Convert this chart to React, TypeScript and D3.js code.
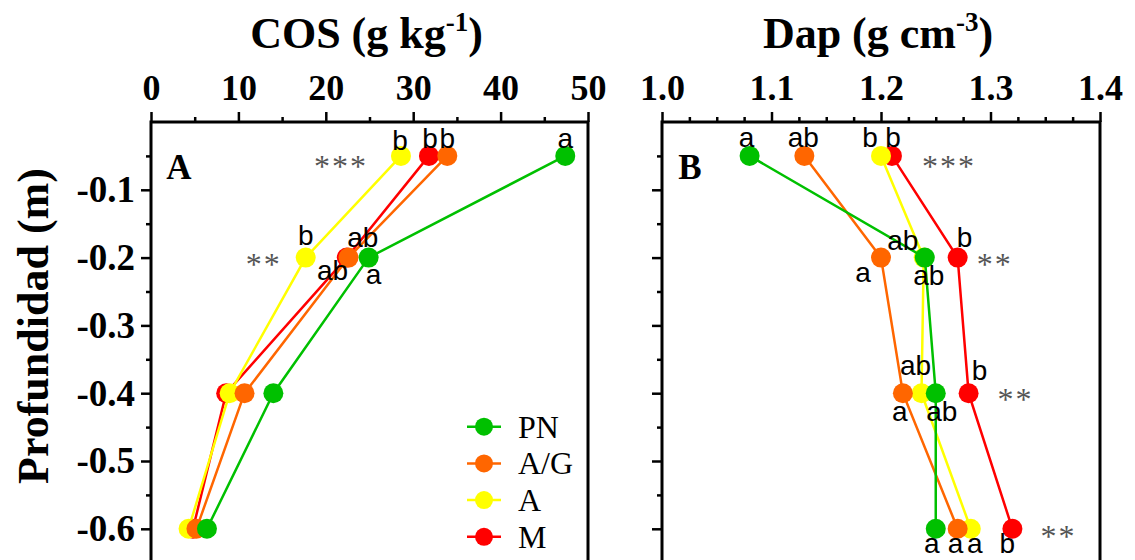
import * as d3 from 'd3';
import { useEffect, useRef } from 'react';

const depths = [-0.05, -0.2, -0.4, -0.6];
const seriesNames = ['PN', 'A/G', 'A', 'M'];
const seriesColors = ['#00c000', '#ff6600', '#ffff00', '#ff0000'];

// COS (g kg-1), one value per depth
const cosPN = [47.4, 24.9, 14.0, 6.4];
const cosAG = [33.9, 22.6, 10.7, 5.2];
const cosA = [28.6, 17.7, 9.0, 4.3];
const cosM = [31.8, 22.4, 8.6, 4.8];

// Dap (g cm-3), one value per depth
const dapPN = [1.08, 1.24, 1.25, 1.25];
const dapAG = [1.13, 1.2, 1.22, 1.27];
const dapA = [1.2, 1.239, 1.237, 1.282];
const dapM = [1.21, 1.27, 1.28, 1.32];

// letters of the mean comparison test
const cosLettersPN = ['a', 'a', '', ''];
const cosLettersAG = ['b', 'ab', '', ''];
const cosLettersA = ['b', 'b', '', ''];
const cosLettersM = ['b', 'ab', '', ''];
const dapLettersPN = ['a', 'ab', 'ab', 'a'];
const dapLettersAG = ['ab', 'a', 'a', 'a'];
const dapLettersA = ['b', 'ab', 'ab', 'a'];
const dapLettersM = ['b', 'b', 'b', 'b'];

const cosStars = ['***', '**', '', ''];
const dapStars = ['***', '**', '**', '**'];

const cosTicks = [0, 10, 20, 30, 40, 50];
const dapTicks = [1.0, 1.1, 1.2, 1.3, 1.4];
const depthTicks = [-0.1, -0.2, -0.3, -0.4, -0.5, -0.6];

const serif = "'Liberation Serif', 'Times New Roman', serif";
const sans = "'Liberation Sans', Arial, sans-serif";

// label nudges [dx, dy] from the point, per series then depth
const cosLetterPos = [
  [[0, -8], [5, 26], [0, 0], [0, 0]],
  [[0, -8], [-16, 22], [0, 0], [0, 0]],
  [[-1, -6], [0, -13], [0, 0], [0, 0]],
  [[1, -8], [16, -11], [0, 0], [0, 0]]
];
const dapLetterPos = [
  [[-3, -9], [-22, -8], [6, 28], [-4, 24]],
  [[-1, -9], [-18, 24], [-3, 28], [-2, 24]],
  [[-11, -9], [5, 27], [-6, -18], [4, 24]],
  [[1, -9], [7, -11], [11, -13], [-5, 24]]
];

const App = () => {
  const ref = useRef<SVGSVGElement | null>(null);

  useEffect(() => {
    if (!ref.current) return;
    const svg = d3.select(ref.current);
    svg.selectAll('*').remove();

    const width = 1135;
    const height = 560;
    svg.attr('width', width).attr('height', height);

    const y = d3.scaleLinear().domain([0, -0.7]).range([122, 596.6]);
    const minorDepth = d3.range(-0.05, -0.7, -0.1);

    const panels = [
      {
        x: d3.scaleLinear().domain([0, 50]).range([151, 588]),
        ticks: cosTicks,
        minor: d3.range(5, 50, 10),
        fmt: (d: number) => String(d),
        values: [cosPN, cosAG, cosA, cosM],
        letters: [cosLettersPN, cosLettersAG, cosLettersA, cosLettersM],
        letterPos: cosLetterPos,
        stars: cosStars,
        starAnchor: 2,
        starDx: [-61, -43, 0, 0],
        starDy: [6, 2, 0, 0],
        tag: 'A',
        title: 'COS (g kg',
        sup: '-1',
        showY: true
      },
      {
        x: d3.scaleLinear().domain([1.0, 1.4]).range([662, 1100]),
        ticks: dapTicks,
        minor: d3.range(1.025, 1.4, 0.025).filter(v => Math.abs(v * 10 - Math.round(v * 10)) > 0.01),
        fmt: (d: number) => d.toFixed(1),
        values: [dapPN, dapAG, dapA, dapM],
        letters: [dapLettersPN, dapLettersAG, dapLettersA, dapLettersM],
        letterPos: dapLetterPos,
        stars: dapStars,
        starAnchor: 3,
        starDx: [56, 36, 46, 45],
        starDy: [6, 2, 2, 3],
        tag: 'B',
        title: 'Dap (g cm',
        sup: '-3',
        showY: false
      }
    ];

    panels.forEach(p => {
      const [x0, x1] = p.x.range();
      const g = svg.append('g');

      // top axis
      const top = g.append('g').attr('transform', `translate(0,${y(0)})`);
      top.call(d3.axisTop(p.x).tickValues(p.ticks).tickSize(10).tickPadding(12).tickFormat(p.fmt as any));
      top.append('g').call(d3.axisTop(p.x).tickValues(p.minor).tickSize(5).tickFormat(() => ''));
      top.selectAll('.domain').remove();
      top.selectAll('line').attr('stroke', '#000').attr('stroke-width', 2.5);
      top.selectAll('text')
        .attr('font-family', serif)
        .attr('font-weight', 'bold')
        .attr('font-size', 36)
        .attr('fill', '#000');

      // left axis
      const left = g.append('g').attr('transform', `translate(${x0},0)`);
      left.call(
        d3.axisLeft(y).tickValues(depthTicks).tickSize(10).tickPadding(6)
          .tickFormat((d: any) => (p.showY ? Number(d).toFixed(1) : ''))
      );
      left.append('g').call(d3.axisLeft(y).tickValues(minorDepth).tickSize(5).tickFormat(() => ''));
      left.selectAll('.domain').remove();
      left.selectAll('line').attr('stroke', '#000').attr('stroke-width', 2.5);
      left.selectAll('text')
        .attr('font-family', serif)
        .attr('font-weight', 'bold')
        .attr('font-size', 37)
        .attr('fill', '#000');

      // frame
      g.append('rect')
        .attr('x', x0)
        .attr('y', y(0))
        .attr('width', x1 - x0)
        .attr('height', y(-0.7) - y(0))
        .attr('fill', 'none')
        .attr('stroke', '#000')
        .attr('stroke-width', 3);

      // title
      const t = g.append('text')
        .attr('x', (x0 + x1) / 2 - 3)
        .attr('y', 48)
        .attr('text-anchor', 'middle')
        .attr('font-family', serif)
        .attr('font-weight', 'bold')
        .attr('font-size', 44)
        .attr('fill', '#000');
      t.append('tspan').text(p.title);
      t.append('tspan').attr('dy', -17).attr('font-size', 27).text(p.sup);
      t.append('tspan').attr('dy', 17).text(')');

      g.append('text')
        .attr('x', x0 + 28)
        .attr('y', 179)
        .attr('text-anchor', 'middle')
        .attr('font-family', serif)
        .attr('font-weight', 'bold')
        .attr('font-size', 35)
        .text(p.tag);

      // series: drawn so that PN ends on top
      const line = d3.line<number>()
        .x(d => p.x(d))
        .y((_, i) => y(depths[i]));
      [3, 2, 1, 0].forEach(si => {
        const vals = p.values[si];
        g.append('path')
          .attr('d', line(vals) as string)
          .attr('fill', 'none')
          .attr('stroke', seriesColors[si])
          .attr('stroke-width', 2.5);
        g.selectAll(null)
          .data(vals)
          .enter()
          .append('circle')
          .attr('cx', d => p.x(d))
          .attr('cy', (_, i) => y(depths[i]))
          .attr('r', 10)
          .attr('fill', seriesColors[si]);
      });

      // letters
      p.values.forEach((vals, si) => {
        vals.forEach((v, di) => {
          const txt = p.letters[si][di];
          if (!txt) return;
          const [dx, dy] = p.letterPos[si][di];
          g.append('text')
            .attr('x', p.x(v) + dx)
            .attr('y', y(depths[di]) + dy)
            .attr('text-anchor', 'middle')
            .attr('font-family', sans)
            .attr('font-size', 28)
            .attr('fill', '#000')
            .text(txt);
        });
      });

      // significance stars
      p.stars.forEach((s, di) => {
        if (!s) return;
        const ax = p.x(p.values[p.starAnchor][di]);
        g.append('text')
          .attr('x', ax + p.starDx[di] + 1)
          .attr('y', y(depths[di]) + p.starDy[di] + 15)
          .attr('text-anchor', 'middle')
          .attr('font-family', serif)
          .attr('font-size', 32)
          .attr('letter-spacing', 2)
          .attr('fill', '#555')
          .text(s);
      });
    });

    // y title
    svg.append('text')
      .attr('transform', 'translate(48,326) rotate(-90)')
      .attr('text-anchor', 'middle')
      .attr('font-family', serif)
      .attr('font-weight', 'bold')
      .attr('font-size', 44)
      .text('Profundidad (m)');

    // legend
    const lg = svg.append('g');
    seriesNames.forEach((name, i) => {
      const cy = 426.7 + i * 36.7;
      lg.append('line')
        .attr('x1', 467).attr('x2', 501)
        .attr('y1', cy).attr('y2', cy)
        .attr('stroke', seriesColors[i])
        .attr('stroke-width', 2.5);
      lg.append('circle').attr('cx', 484).attr('cy', cy).attr('r', 9).attr('fill', seriesColors[i]);
      lg.append('text')
        .attr('x', 518)
        .attr('y', cy + 11)
        .attr('font-family', serif)
        .attr('font-size', 32)
        .text(name);
    });
  }, []);

  return <svg ref={ref} style={{ position: 'absolute', left: 0, top: 0 }} />;
};

export default App;
